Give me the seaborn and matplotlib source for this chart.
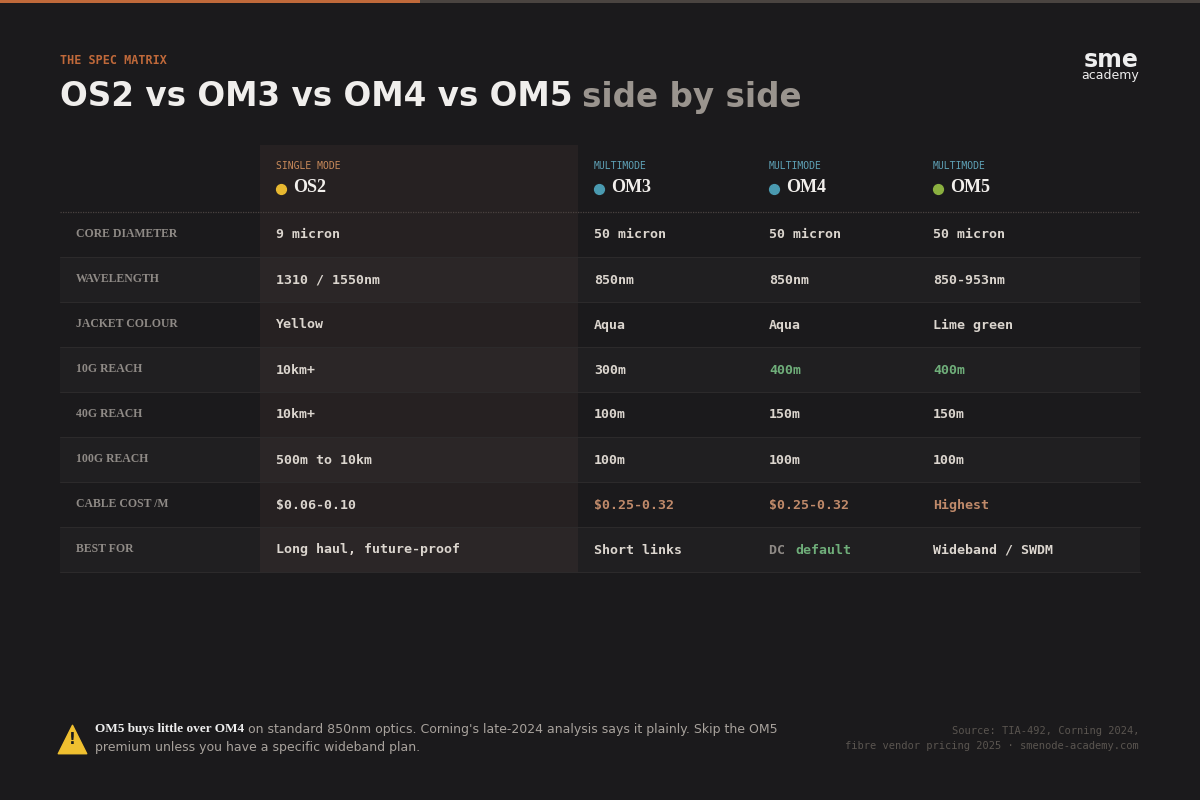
import matplotlib
matplotlib.use("Agg")
import matplotlib.pyplot as plt
import seaborn as sns

# data
fibres = ["OS2", "OM3", "OM4", "OM5"]
modes = ["SINGLE MODE", "MULTIMODE", "MULTIMODE", "MULTIMODE"]
row_labels = ["CORE DIAMETER", "WAVELENGTH", "JACKET COLOUR", "10G REACH",
              "40G REACH", "100G REACH", "CABLE COST /M", "BEST FOR"]
os2_vals = ["9 micron", "1310 / 1550nm", "Yellow", "10km+", "10km+",
            "500m to 10km", "$0.06-0.10", "Long haul, future-proof"]
om3_vals = ["50 micron", "850nm", "Aqua", "300m", "100m", "100m",
            "$0.25-0.32", "Short links"]
om4_vals = ["50 micron", "850nm", "Aqua", "400m", "150m", "100m",
            "$0.25-0.32", "DC default"]
om5_vals = ["50 micron", "850-953nm", "Lime green", "400m", "150m", "100m",
            "Highest", "Wideband / SWDM"]

# style
BG = "#1b1a1c"
ORANGE = "#c0693a"
TXT = "#dcd6cf"
LABEL = "#8f8a86"
GREEN = "#6fae7a"
COST = "#c08a6a"
dot_colors = ["#e8b830", "#4a9ab0", "#4a9ab0", "#8bb040"]
mode_colors = ["#c98a5a", "#5fa3b8", "#5fa3b8", "#5fa3b8"]
col_x = [276, 594, 769, 933]
highlight = {(3, 2): GREEN, (3, 3): GREEN, (6, 1): COST, (6, 2): COST, (6, 3): COST}

sns.set_theme(style="dark")
fig = plt.figure(figsize=(12, 8), dpi=100, facecolor=BG)
ax = fig.add_axes([0, 0, 1, 1])
ax.set_facecolor(BG)
ax.set_xlim(0, 1200)
ax.set_ylim(800, 0)
ax.axis("off")

# top accent bar
ax.fill_between([0, 420], 0, 3, color=ORANGE, lw=0)
ax.fill_between([420, 1200], 0, 3, color="#4a4440", lw=0)

ax.text(60, 60, "THE SPEC MATRIX", color=ORANGE, fontsize=8.5,
        family="DejaVu Sans Mono", fontweight="bold", va="center")
t = ax.text(60, 97, "OS2 vs OM3 vs OM4 vs OM5", color="#f0eeec", fontsize=23.5,
            fontweight="bold", family="DejaVu Sans", va="center")
fig.canvas.draw()
bb = t.get_window_extent()
ax.text(bb.x1 + 10, 97, "side by side", color="#9a948e", fontsize=23.5,
        fontweight="bold", family="DejaVu Sans", va="center")

# logo
ax.text(1139, 60, "sme", color="#eeeeee", fontsize=17, fontweight="bold",
        family="DejaVu Sans", ha="right", va="center")
ax.text(1139, 76, "academy", color="#eeeeee", fontsize=9, family="DejaVu Sans",
        ha="right", va="center")

# highlighted OS2 column
ax.fill_between([260, 578], 145, 572, color="#262122", lw=0, zorder=0)

# row bands and separators
top = 212
rh = 45
for i in range(len(row_labels)):
    y0 = top + i * rh
    if i % 2 == 1:
        ax.fill_between([60, 1140], y0, y0 + rh, color="#ffffff", alpha=0.025, lw=0, zorder=1)
    ax.plot([60, 1140], [y0 + rh, y0 + rh], color="#2c2a2b", lw=0.8, zorder=2)
ax.plot([60, 1140], [top, top], color="#4a4240", lw=0.9, ls=(0, (1, 1)), zorder=2)

# header
for j, f in enumerate(fibres):
    ax.text(col_x[j], 166, modes[j], color=mode_colors[j],
            fontsize=7, family="DejaVu Sans Mono", va="center")
    ax.scatter(col_x[j] + 5, 189, s=50, color=dot_colors[j], zorder=3)
    ax.text(col_x[j] + 17, 188, f, color="#f2efec", fontsize=13, fontweight="bold",
            family="Liberation Serif", va="center")

# body
cols = [os2_vals, om3_vals, om4_vals, om5_vals]
for i, lab in enumerate(row_labels):
    yc = top + i * rh + 22
    ax.text(76, yc, lab, color=LABEL, fontsize=8.5, fontweight="bold",
            family="Liberation Serif", va="center")
    for j, vals in enumerate(cols):
        v = vals[i]
        if v == "DC default":
            ax.text(col_x[j], yc + 1, "DC ", color=LABEL, fontsize=9.5,
                    family="DejaVu Sans Mono", va="center", fontweight="bold")
            ax.text(col_x[j] + 26, yc + 1, "default", color=GREEN, fontsize=9.5,
                    family="DejaVu Sans Mono", va="center", fontweight="bold")
            continue
        ax.text(col_x[j], yc + 1, v, color=highlight.get((i, j), TXT), fontsize=9.5,
                family="DejaVu Sans Mono", va="center", fontweight="bold")

# footer
ax.text(72, 740, "!", color="#1b1a1c", fontsize=11, fontweight="bold", ha="center",
        va="center", zorder=4)
ax.scatter(72, 739, marker="^", s=420, color="#f0c030", zorder=3)
nb = ax.text(95, 729, "OM5 buys little over OM4", color="#eeeeee", fontsize=9.5,
             fontweight="bold", family="Liberation Serif", va="center")
fig.canvas.draw()
x1 = nb.get_window_extent().x1
ax.text(x1 + 4, 729, "on standard 850nm optics. Corning's late-2024 analysis says it plainly. Skip the OM5",
        color="#a8a29c", fontsize=9, family="DejaVu Sans", va="center")
ax.text(95, 747, "premium unless you have a specific wideband plan.", color="#a8a29c",
        fontsize=9, family="DejaVu Sans", va="center")
ax.text(1139, 731, "Source: TIA-492, Corning 2024,", color="#5a5550", fontsize=7.5,
        family="DejaVu Sans Mono", ha="right", va="center")
ax.text(1139, 746, "fibre vendor pricing 2025 · smenode-academy.com", color="#5a5550",
        fontsize=7.5, family="DejaVu Sans Mono", ha="right", va="center")

fig.savefig("out.png", dpi=100, facecolor=BG)
